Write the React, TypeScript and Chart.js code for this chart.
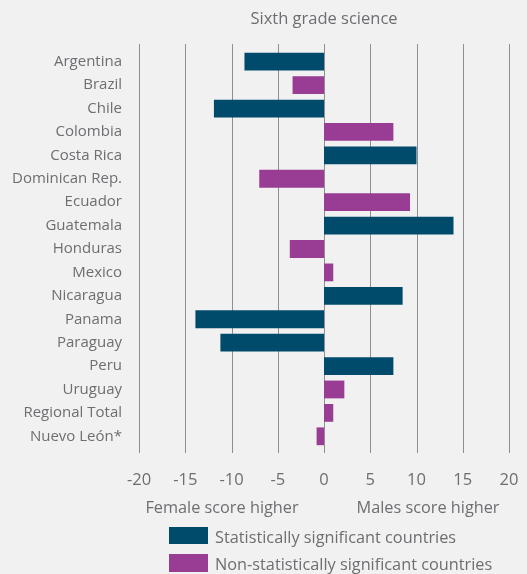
import React, { useEffect, useRef } from "react";
import { Chart, registerables } from "chart.js";

Chart.register(...registerables);

const categories = [
  "Argentina",
  "Brazil",
  "Chile",
  "Colombia",
  "Costa Rica",
  "Dominican Rep.",
  "Ecuador",
  "Guatemala",
  "Honduras",
  "Mexico",
  "Nicaragua",
  "Panama",
  "Paraguay",
  "Peru",
  "Uruguay",
  "Regional Total",
  "Nuevo León*",
];

const significant = [-8.6, null, -11.9, null, 10.0, null, null, 14.0, null, null, 8.5, -13.9, -11.2, 7.5, null, null, null];
const nonSignificant = [null, -3.4, null, 7.5, null, -7.0, 9.3, null, -3.7, 1.0, null, null, null, null, 2.2, 1.0, -0.8];

const xMin = -20;
const xMax = 20;
const xStep = 5;

const title = "Sixth grade science";
const femaleLabel = "Female score higher";
const maleLabel = "Males score higher";
const seriesNames = ["Statistically significant countries", "Non-statistically significant countries"];

const TEAL = "#004b6b";
const PURPLE = "#993d94";
const TEXT = "#6d6e71";
const GRID = "#8e8e8e";
const BG = "#f1f1f1";
const FONT = "'Open Sans', sans-serif";

const decorPlugin = {
  id: "decor",
  beforeDatasetsDraw(chart: any) {
    const { ctx, chartArea, scales } = chart;
    const x = scales.x;
    ctx.save();
    ctx.strokeStyle = GRID;
    ctx.lineWidth = 1;
    for (let v = xMin; v <= xMax; v += xStep) {
      const px = Math.round(x.getPixelForValue(v)) + 0.5;
      ctx.beginPath();
      ctx.moveTo(px, chartArea.top - 6);
      ctx.lineTo(px, chartArea.bottom + 5);
      ctx.stroke();
    }
    ctx.restore();
  },
  afterDraw(chart: any) {
    const { ctx, chartArea } = chart;
    ctx.save();
    ctx.fillStyle = TEXT;
    ctx.font = `16.5px ${FONT}`;
    ctx.textAlign = "center";
    ctx.textBaseline = "middle";
    ctx.fillText(title, (chartArea.left + chartArea.right) / 2, 19);
    ctx.restore();
  },
};

export default function App() {
  const ref = useRef<HTMLCanvasElement | null>(null);

  useEffect(() => {
    document.body.style.margin = "0";
    document.body.style.background = BG;
    const canvas = ref.current;
    if (!canvas) return;
    const chart = new Chart(canvas, {
      type: "bar",
      data: {
        labels: categories,
        datasets: [
          {
            label: seriesNames[0],
            data: significant as any,
            backgroundColor: TEAL,
            borderWidth: 0,
            barPercentage: 0.76,
            categoryPercentage: 1,
          },
          {
            label: seriesNames[1],
            data: nonSignificant as any,
            backgroundColor: PURPLE,
            borderWidth: 0,
            barPercentage: 0.76,
            categoryPercentage: 1,
          },
        ],
      },
      options: {
        indexAxis: "y",
        animation: false,
        responsive: false,
        maintainAspectRatio: false,
        layout: { padding: { top: 50, right: 18, left: 0, bottom: 0 } },
        plugins: {
          legend: { display: false },
          title: { display: false },
          tooltip: { enabled: false },
        },
        scales: {
          x: {
            stacked: true,
            min: xMin,
            max: xMax,
            ticks: {
              stepSize: xStep,
              color: TEXT,
              font: { family: FONT, size: 16.5 },
              padding: 2,
              maxRotation: 0,
            },
            grid: { display: false, drawTicks: true, tickLength: 20 },
            border: { display: false },
            afterFit: (s: any) => {
              s.height = 126;
            },
          },
          y: {
            stacked: true,
            ticks: {
              color: TEXT,
              font: { family: FONT, size: 15 },
              padding: 17,
              autoSkip: false,
            },
            grid: { display: false, drawTicks: false },
            border: { display: false },
            afterFit: (s: any) => {
              s.width = 139;
            },
          },
        },
      },
      plugins: [decorPlugin],
    } as any);
    return () => chart.destroy();
  }, []);

  const textStyle: React.CSSProperties = {
    position: "absolute",
    fontFamily: FONT,
    color: TEXT,
    whiteSpace: "nowrap",
    lineHeight: "20px",
    fontSize: 16.3,
  };

  return (
    <div style={{ position: "relative", width: 527, height: 574, background: BG, overflow: "hidden" }}>
      <canvas ref={ref} width={527} height={574} style={{ display: "block" }} />
      <div style={{ ...textStyle, left: 222, top: 497, transform: "translateX(-50%)" }}>{femaleLabel}</div>
      <div style={{ ...textStyle, left: 428, top: 497, transform: "translateX(-50%)" }}>{maleLabel}</div>
      <div style={{ position: "absolute", left: 169, top: 527, width: 39, height: 17, background: TEAL }} />
      <div style={{ ...textStyle, left: 215, top: 527 }}>{seriesNames[0]}</div>
      <div style={{ position: "absolute", left: 169, top: 554, width: 39, height: 18, background: PURPLE }} />
      <div style={{ ...textStyle, left: 215, top: 554 }}>{seriesNames[1]}</div>
    </div>
  );
}
